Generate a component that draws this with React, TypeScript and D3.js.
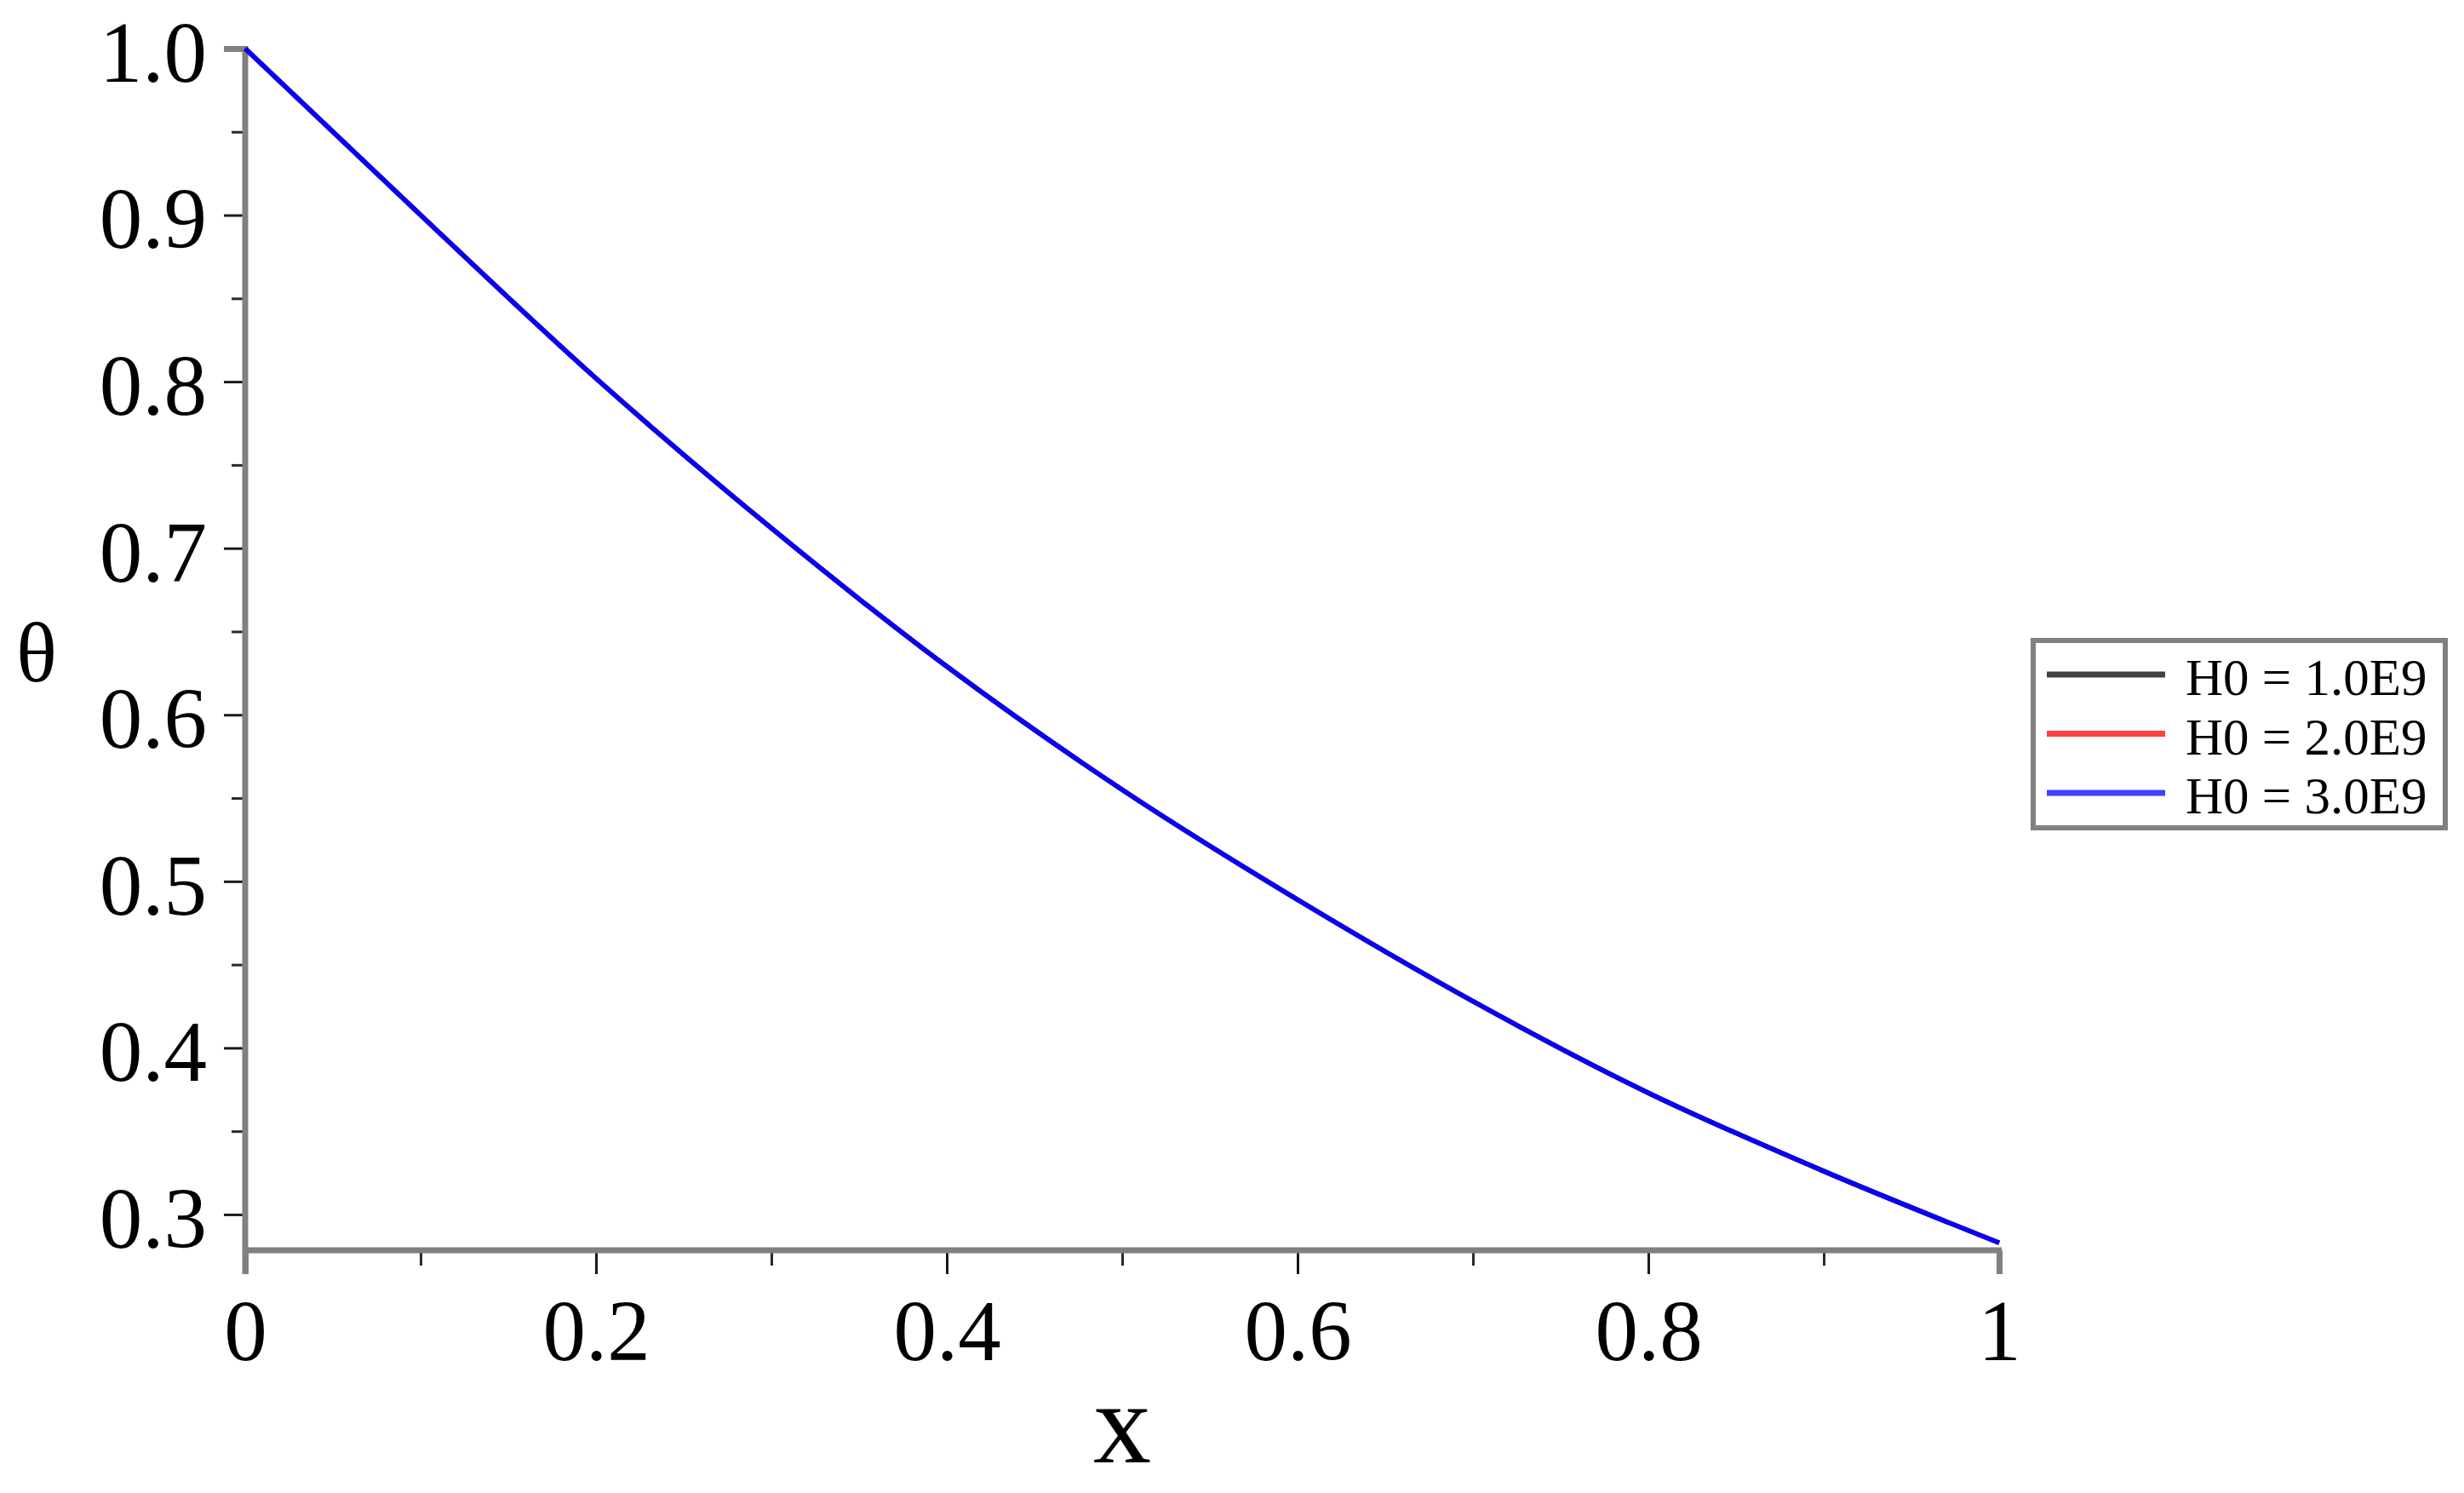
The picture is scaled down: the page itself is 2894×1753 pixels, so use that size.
import React, { useEffect, useRef } from "react";
import * as d3 from "d3";

// values (the three curves lie on top of each other)
const xValues = [0, 0.1, 0.2, 0.3, 0.4, 0.5, 0.6, 0.7, 0.8, 0.9, 1.0];
const thetaH1 = [1.0, 0.9, 0.802, 0.712, 0.629, 0.555, 0.489, 0.428, 0.373, 0.326, 0.283];
const thetaH2 = [1.0, 0.9, 0.802, 0.712, 0.629, 0.555, 0.489, 0.428, 0.373, 0.326, 0.283];
const thetaH3 = [1.0, 0.9, 0.802, 0.712, 0.629, 0.555, 0.489, 0.428, 0.373, 0.326, 0.283];

const seriesNames = ["H0 = 1.0E9", "H0 = 2.0E9", "H0 = 3.0E9"];
const seriesColors = ["#000000", "#ff0000", "#0000ff"];
const legendColors = ["#404040", "#ff4040", "#4040ff"];

const xMajorTicks = [0, 0.2, 0.4, 0.6, 0.8, 1];
const xMinorTicks = [0.1, 0.3, 0.5, 0.7, 0.9];
const yMajorTicks = [0.3, 0.4, 0.5, 0.6, 0.7, 0.8, 0.9, 1.0];
const yMinorTicks = [0.35, 0.45, 0.55, 0.65, 0.75, 0.85, 0.95];

const W = 2894;
const H = 1753;
const FONT = "'Liberation Serif', 'Times New Roman', serif";

export default function App() {
  const ref = useRef<SVGSVGElement>(null);

  useEffect(() => {
    const svg = d3.select(ref.current);
    svg.selectAll("*").remove();

    var left = 288;
    var right = 2348;
    var top = 57;
    var bottom = 1468;

    var x = d3.scaleLinear().domain([0, 1]).range([left, right]);
    var y = d3.scaleLinear().domain([0.2785, 1.0]).range([bottom, top]);

    var axisGray = "#808080";

    // minor ticks
    var yMinor = svg.append("g").attr("transform", "translate(" + left + ",0)")
      .call(d3.axisLeft(y).tickValues(yMinorTicks).tickSize(16).tickFormat(() => ""));
    yMinor.select(".domain").remove();
    yMinor.selectAll("line").attr("stroke", "#2a2a2a").attr("stroke-width", 3);

    var xMinor = svg.append("g").attr("transform", "translate(0," + bottom + ")")
      .call(d3.axisBottom(x).tickValues(xMinorTicks).tickSize(18).tickFormat(() => ""));
    xMinor.select(".domain").remove();
    xMinor.selectAll("line").attr("stroke", "#2a2a2a").attr("stroke-width", 3);

    // major ticks + labels
    var yAxis = svg.append("g").attr("transform", "translate(" + left + ",0)")
      .call(d3.axisLeft(y).tickValues(yMajorTicks).tickSize(25).tickPadding(20)
        .tickFormat(d3.format(".1f") as any));
    yAxis.select(".domain").remove();
    yAxis.selectAll("line")
      .attr("stroke", (d: any) => (d === 1.0 ? axisGray : "#1a1a1a"))
      .attr("stroke-width", (d: any) => (d === 1.0 ? 7 : 3));
    yAxis.selectAll("text")
      .attr("font-family", FONT).attr("font-size", 101).attr("fill", "#000")
      .attr("dy", "0.38em");

    var xAxis = svg.append("g").attr("transform", "translate(0," + bottom + ")")
      .call(d3.axisBottom(x).tickValues(xMajorTicks).tickSize(28).tickPadding(29)
        .tickFormat(d3.format("") as any));
    xAxis.select(".domain").remove();
    xAxis.selectAll("line")
      .attr("stroke", (d: any) => (d === 1 || d === 0 ? axisGray : "#1a1a1a"))
      .attr("stroke-width", (d: any) => (d === 1 || d === 0 ? 7 : 3));
    xAxis.selectAll("text")
      .attr("font-family", FONT).attr("font-size", 101).attr("fill", "#000");

    // axis lines
    svg.append("line")
      .attr("x1", left).attr("x2", left).attr("y1", top - 3).attr("y2", bottom + 28)
      .attr("stroke", axisGray).attr("stroke-width", 7);
    svg.append("line")
      .attr("x1", left).attr("x2", right + 3).attr("y1", bottom).attr("y2", bottom)
      .attr("stroke", axisGray).attr("stroke-width", 7);

    // curves
    var all = [thetaH1, thetaH2, thetaH3];
    var line = d3.line<number>()
      .x((_, i) => x(xValues[i]))
      .y((d) => y(d))
      .curve(d3.curveMonotoneX);

    all.forEach((vals, k) => {
      svg.append("path")
        .attr("d", line(vals))
        .attr("fill", "none")
        .attr("stroke", seriesColors[k])
        .attr("stroke-width", 5.5);
    });

    // axis titles
    svg.append("text")
      .attr("x", 43).attr("y", 800)
      .attr("text-anchor", "middle")
      .attr("font-family", FONT).attr("font-size", 100)
      .text("θ");
    svg.append("text")
      .attr("x", (left + right) / 2).attr("y", 1717)
      .attr("text-anchor", "middle")
      .attr("font-family", FONT).attr("font-size", 136)
      .text("x");

    // legend
    var lg = svg.append("g");
    lg.append("rect")
      .attr("x", 2388).attr("y", 752).attr("width", 484).attr("height", 220)
      .attr("fill", "#fff").attr("stroke", axisGray).attr("stroke-width", 6);
    seriesNames.forEach((name, k) => {
      var ry = 792 + k * 69.5;
      lg.append("line")
        .attr("x1", 2404).attr("x2", 2543).attr("y1", ry).attr("y2", ry)
        .attr("stroke", legendColors[k]).attr("stroke-width", 7);
      lg.append("text")
        .attr("x", 2567).attr("y", ry + 24)
        .attr("font-family", FONT).attr("font-size", 61).attr("fill", "#000")
        .text(name);
    });
  }, []);

  return (
    <svg
      ref={ref}
      width={W}
      height={H}
      style={{ position: "absolute", left: 0, top: 0, display: "block", background: "#fff" }}
    />
  );
}
